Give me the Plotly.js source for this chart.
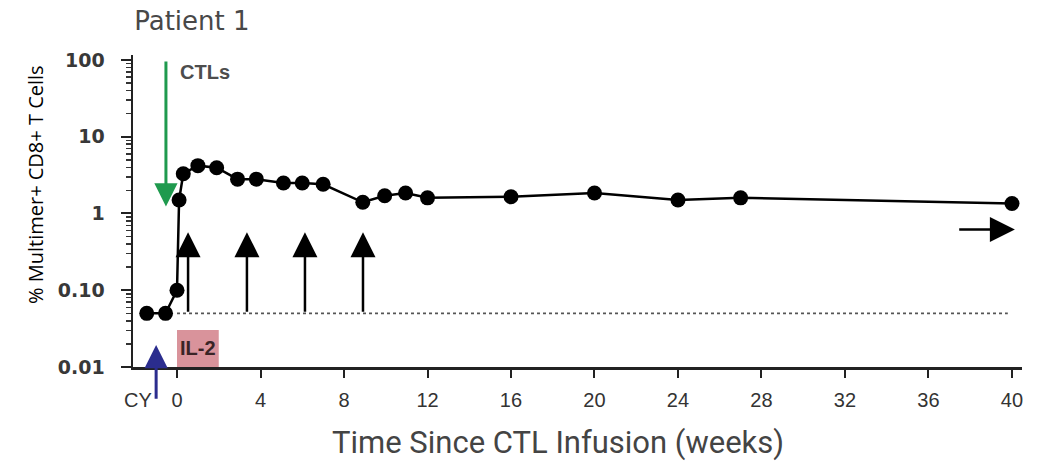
<!DOCTYPE html>
<html>
<head>
<meta charset="utf-8">
<script src="https://cdn.plot.ly/plotly-3.0.1.min.js"></script>
<style>
  html, body { margin: 0; padding: 0; background: #fff; }
  #chart { width: 1043px; height: 461px; }
</style>
</head>
<body>
<div id="chart"></div>
<script>
// ---- Data ----
const weeks  = [-1.45, -0.55, 0, 0.1, 0.3, 1.0, 1.9, 2.9, 3.8, 5.1, 6.0, 7.0, 8.9, 9.95, 10.95, 12, 16, 20, 24, 27, 40];
const values = [0.05, 0.05, 0.1, 1.5, 3.3, 4.2, 3.95, 2.8, 2.8, 2.5, 2.5, 2.4, 1.4, 1.7, 1.85, 1.6, 1.65, 1.85, 1.5, 1.6, 1.35];

const xTickVals = [0, 4, 8, 12, 16, 20, 24, 28, 32, 36, 40];
const xTickText = ['0', '4', '8', '12', '16', '20', '24', '28', '32', '36', '40'];
const yTickVals = [0.01, 0.1, 1, 10, 100];
const yTickText = ['0.01', '0.10', '1', '10', '100'];

const detectionLimit = 0.05;          // dotted threshold line
const detectionSpan  = [0, 39.8];     // weeks covered by the dotted line
const il2Span        = [0, 2];        // IL-2 box, weeks
const il2Doses       = [0.53, 3.35, 6.13, 8.91]; // black up arrows (weeks)
const il2ArrowTip    = 0.57;          // value at the arrow tips
const ctlWeek        = -0.53;         // CTL infusion arrow
const ctlArrow       = [100, 1.23];   // tail, tip values
const cyWeek         = -1.0;          // cyclophosphamide arrow
const cyArrow        = [0.0037, 0.0193]; // tail, tip values
const contArrowWeeks = [37.4, 40.14]; // continuing arrow (tail, tip)
const contArrowValue = 0.62;

const L = Math.log10;
const plotW = 1043 - 133 - 21, plotH = 461 - 55 - 94;

// minor ticks for log axis
const minorVals = [];
[0.01, 0.1, 1, 10].forEach(d => { for (let k = 2; k <= 9; k++) minorVals.push(+(d * k).toPrecision(3)); });

const traces = [
  {
    x: detectionSpan, y: [detectionLimit, detectionLimit],
    mode: 'lines', type: 'scatter', hoverinfo: 'skip',
    line: { color: '#555', width: 1.6, dash: 'dot' }, showlegend: false
  },
  {
    x: weeks, y: values, mode: 'lines+markers', type: 'scatter',
    line: { color: '#000', width: 2.5 },
    marker: { color: '#000', size: 15 },
    showlegend: false, cliponaxis: false
  }
];

const annotations = [];

// IL-2 dose arrows
il2Doses.forEach(w => annotations.push({
  x: w, y: L(il2ArrowTip), xref: 'x', yref: 'y',
  ax: w, ay: L(detectionLimit), axref: 'x', ayref: 'y',
  showarrow: true, arrowhead: 2, arrowwidth: 2.5, arrowsize: 2,
  arrowcolor: '#000', text: '', standoff: 0
}));

// CTL arrow (green)
annotations.push({
  x: ctlWeek, y: L(ctlArrow[1]), xref: 'x', yref: 'y',
  ax: ctlWeek, ay: L(ctlArrow[0]), axref: 'x', ayref: 'y',
  showarrow: true, arrowhead: 2, arrowwidth: 3, arrowsize: 1.55,
  arrowcolor: '#1f9a4e', text: '', standoff: 0
});
annotations.push({
  x: 0.05, y: L(70), xref: 'x', yref: 'y', xanchor: 'left', yanchor: 'middle',
  text: 'CTLs', showarrow: false,
  font: { family: 'Liberation Sans, Arial, sans-serif', size: 20, color: '#4d4d4d', weight: 'bold' }
});

// CY arrow (blue)
annotations.push({
  x: cyWeek, y: L(cyArrow[1]), xref: 'x', yref: 'y',
  ax: cyWeek, ay: L(cyArrow[0]), axref: 'x', ayref: 'y',
  showarrow: true, arrowhead: 2, arrowwidth: 3, arrowsize: 1.55,
  arrowcolor: '#2b2d8e', text: '', standoff: 0
});

// continuing arrow
annotations.push({
  x: contArrowWeeks[1], y: L(contArrowValue), xref: 'x', yref: 'y',
  ax: contArrowWeeks[0], ay: L(contArrowValue), axref: 'x', ayref: 'y',
  showarrow: true, arrowhead: 2, arrowwidth: 2.5, arrowsize: 2,
  arrowcolor: '#000', text: '', standoff: 0
});

// IL-2 label
annotations.push({
  x: (il2Span[0] + il2Span[1]) / 2, y: L(0.0175), xref: 'x', yref: 'y',
  text: 'IL-2', showarrow: false, xanchor: 'center', yanchor: 'middle',
  font: { family: 'Liberation Sans, Arial, sans-serif', size: 20, color: '#3a2426', weight: 'bold' }
});

// CY label
annotations.push({
  x: -1.85, y: (461 - 94 - 400) / plotH, xref: 'x', yref: 'paper', xanchor: 'center', yanchor: 'middle',
  text: 'CY', showarrow: false,
  font: { family: 'Liberation Sans, Arial, sans-serif', size: 20, color: '#333' }
});

// axis titles (placed as annotations to match the reference placement)
annotations.push({
  x: 0.478, y: (461 - 94 - 442) / plotH, xref: 'paper', yref: 'paper',
  xanchor: 'center', yanchor: 'middle',
  text: 'Time Since CTL Infusion (weeks)', showarrow: false,
  font: { family: 'Roboto, Liberation Sans, sans-serif', size: 31, color: '#444' }
});
annotations.push({
  x: (35 - 133) / plotW, y: (461 - 94 - 185) / plotH, xref: 'paper', yref: 'paper',
  xanchor: 'center', yanchor: 'middle', showarrow: false,
  text: '% Multimer+ CD8+ T Cells', textangle: -90,
  font: { family: 'Open Sans, sans-serif', size: 20, color: '#000' }
});

const layout = {
  width: 1043, height: 461,
  margin: { l: 133, r: 21, t: 55, b: 94 },
  paper_bgcolor: '#fff', plot_bgcolor: '#fff',
  title: {
    text: 'Patient 1', xref: 'container', yref: 'container',
    x: 0.184, xanchor: 'center', y: 0.954, yanchor: 'middle',
    font: { family: 'DejaVu Sans, sans-serif', size: 26, color: '#484848' }
  },
  xaxis: {
    range: [-2.108, 40.48], showgrid: false, zeroline: false,
    showline: true, linecolor: '#222', linewidth: 2.5,
    ticks: 'outside', ticklen: 8, tickwidth: 2, tickcolor: '#222',
    tickvals: xTickVals, ticktext: xTickText, ticklabelstandoff: 5,
    tickfont: { family: 'Liberation Sans, Arial, sans-serif', size: 20, color: '#333' }
  },
  yaxis: {
    type: 'log', range: [-2, 2.065], showgrid: false, zeroline: false,
    showline: true, linecolor: '#222', linewidth: 2.5,
    ticks: 'outside', ticklen: 10, tickwidth: 2, tickcolor: '#222',
    tickvals: yTickVals, ticktext: yTickText, ticklabelstandoff: 12,
    tickfont: { family: 'DejaVu Sans, sans-serif', size: 19, color: '#383838', weight: 'bold' },
    minor: { tickvals: minorVals, ticks: 'outside', ticklen: 5, tickwidth: 1.5, tickcolor: '#333', showgrid: false }
  },
  shapes: [
    {
      type: 'rect', xref: 'x', yref: 'paper', layer: 'below',
      x0: il2Span[0], x1: il2Span[1], y0: 0, y1: 37 / plotH,
      fillcolor: '#d9939b', line: { width: 0 }
    }
  ],
  annotations: annotations,
  showlegend: false
};

Plotly.newPlot('chart', traces, layout, { displayModeBar: false, staticPlot: true });
</script>
</body>
</html>
